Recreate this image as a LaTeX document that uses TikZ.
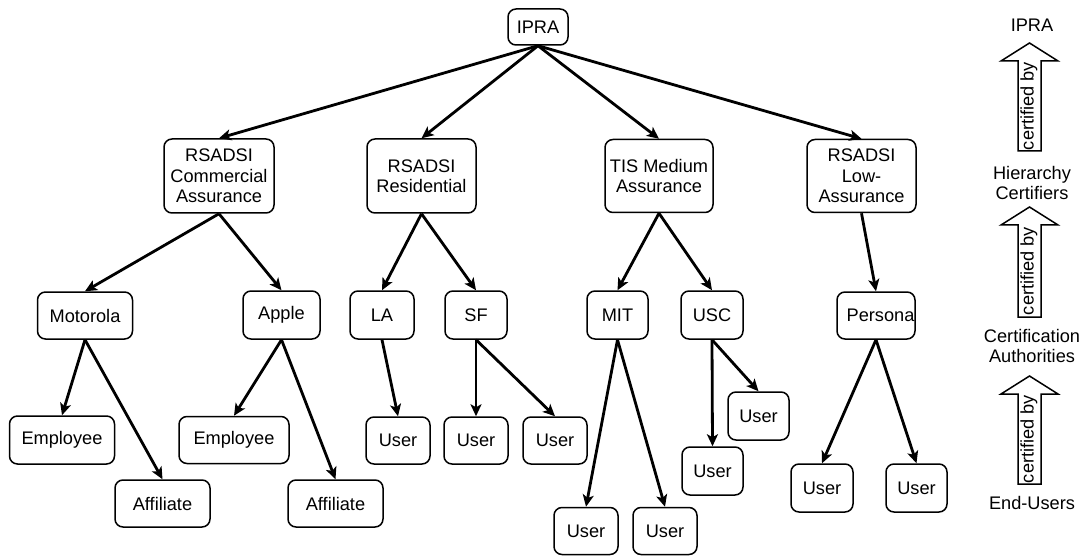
\documentclass[tikz,border=0pt]{standalone}
\usepackage{fontspec}
\setmainfont{Liberation Sans}
\usetikzlibrary{arrows.meta}
\begin{document}
\begin{tikzpicture}[x=1pt,y=-1pt,
  box/.style={draw, line width=1.5pt, rounded corners=8pt, align=center, inner sep=1pt,
    font=\fontsize{18.2}{20.5}\selectfont},
  lab/.style={align=center, inner sep=0pt, font=\fontsize{18.2}{20.5}\selectfont},
  conn/.style={line width=2.8pt, -{Stealth[length=12pt,width=11pt,inset=3pt]}},
  blockarrow/.style={draw, line width=1.5pt, fill=white},
  certtext/.style={rotate=90, inner sep=0pt, font=\fontsize{18.2}{20}\selectfont}]
\useasboundingbox (0,0) rectangle (1082,556);
% level 1
\node[box, minimum width=60pt, minimum height=36pt] (ipra) at (538,27) {IPRA};
% level 2
\node[box, minimum width=110pt, minimum height=74pt] (comm) at (219,176) {RSADSI\\Commercial\\Assurance};
\node[box, minimum width=109pt, minimum height=74pt] (resid) at (421.5,176) {RSADSI\\Residential};
\node[box, minimum width=108pt, minimum height=73pt] (tis) at (659,176) {TIS Medium\\Assurance};
\node[box, minimum width=109pt, minimum height=73pt] (low) at (861.5,176) {RSADSI\\Low-\\Assurance};
% level 3
\node[box, minimum width=95pt, minimum height=47pt] (moto) at (85,315.5) {Motorola};
\node[box, minimum width=77pt, minimum height=48pt] (apple) at (281.5,315) {Apple};
\node[box, minimum width=64pt, minimum height=48pt] (la) at (382,315) {LA};
\node[box, minimum width=62pt, minimum height=48pt] (sf) at (476,315) {SF};
\node[box, minimum width=61pt, minimum height=48pt] (mit) at (617.5,315) {MIT};
\node[box, minimum width=62pt, minimum height=48pt] (usc) at (712,315) {USC};
\node[box, minimum width=78pt, minimum height=47pt, inner xsep=0pt] (persona) at (876,315.5) {\hspace*{9pt}Persona};
% level 4
\node[box, minimum width=105pt, minimum height=48pt] (emp1) at (62,440) {Employee};
\node[box, minimum width=95pt, minimum height=47pt] (aff1) at (162.5,503.5) {Affiliate};
\node[box, minimum width=110pt, minimum height=47pt] (emp2) at (234,440) {Employee};
\node[box, minimum width=95pt, minimum height=47pt] (aff2) at (335.5,503.5) {Affiliate};
\node[box, minimum width=64pt, minimum height=47pt] (lau) at (398,440.5) {User};
\node[box, minimum width=64pt, minimum height=47pt] (sfu1) at (476,440.5) {User};
\node[box, minimum width=64pt, minimum height=47pt] (sfu2) at (555,440.5) {User};
\node[box, minimum width=64pt, minimum height=47pt] (mitu1) at (586,531) {User};
\node[box, minimum width=64pt, minimum height=47pt] (mitu2) at (665,531) {User};
\node[box, minimum width=61pt, minimum height=48pt] (uscu2) at (758.5,416) {User};
\node[box, minimum width=61pt, minimum height=48pt] (uscu1) at (712.5,471) {User};
\node[box, minimum width=62pt, minimum height=48pt] (peru1) at (822,488) {User};
\node[box, minimum width=61pt, minimum height=48pt] (peru2) at (916.5,488) {User};
% connectors
\foreach \c in {comm,resid,tis,low} \draw[conn] (ipra.south) -- (\c.north);
\draw[conn] (comm.south) -- (moto.north);
\draw[conn] (comm.south) -- (apple.north);
\draw[conn] (resid.south) -- (la.north);
\draw[conn] (resid.south) -- (sf.north);
\draw[conn] (tis.south) -- (mit.north);
\draw[conn] (tis.south) -- (usc.north);
\draw[conn] (low.south) -- (persona.north);
\draw[conn] (moto.south) -- (emp1.north);
\draw[conn] (moto.south) -- (aff1.north);
\draw[conn] (apple.south) -- (emp2.north);
\draw[conn] (apple.south) -- (aff2.north);
\draw[conn] (la.south) -- (lau.north);
\draw[conn] (sf.south) -- (sfu1.north);
\draw[conn] (sf.south) -- (sfu2.north);
\draw[conn] (mit.south) -- (mitu1.north);
\draw[conn] (mit.south) -- (mitu2.north);
\draw[conn] (usc.south) -- (uscu1.north);
\draw[conn] (usc.south) -- (uscu2.north);
\draw[conn] (persona.south) -- (peru1.north);
\draw[conn] (persona.south) -- (peru2.north);
% legend
\node[lab] (lipra) at (1032,25) {IPRA};
\node[lab] (lhier) at (1032,183) {Hierarchy\\Certifiers};
\node[lab] (lca) at (1032,346) {Certification\\Authorities};
\node[lab] (lend) at (1032,503) {End-Users};
\foreach \T/\B/\n in {43/151/a, 207/317/b, 376/484/c}{
  \pgfmathsetmacro{\H}{\T+18}
  \draw[blockarrow] (1018,\B) -- (1018,\H) -- (1001,\H) -- (1029.5,\T) -- (1058,\H) -- (1041,\H) -- (1041,\B) -- cycle;
  \node[certtext] (cert\n) at (1029,{(\H+\B)/2}) {certified by};
}
\end{tikzpicture}
\end{document}
